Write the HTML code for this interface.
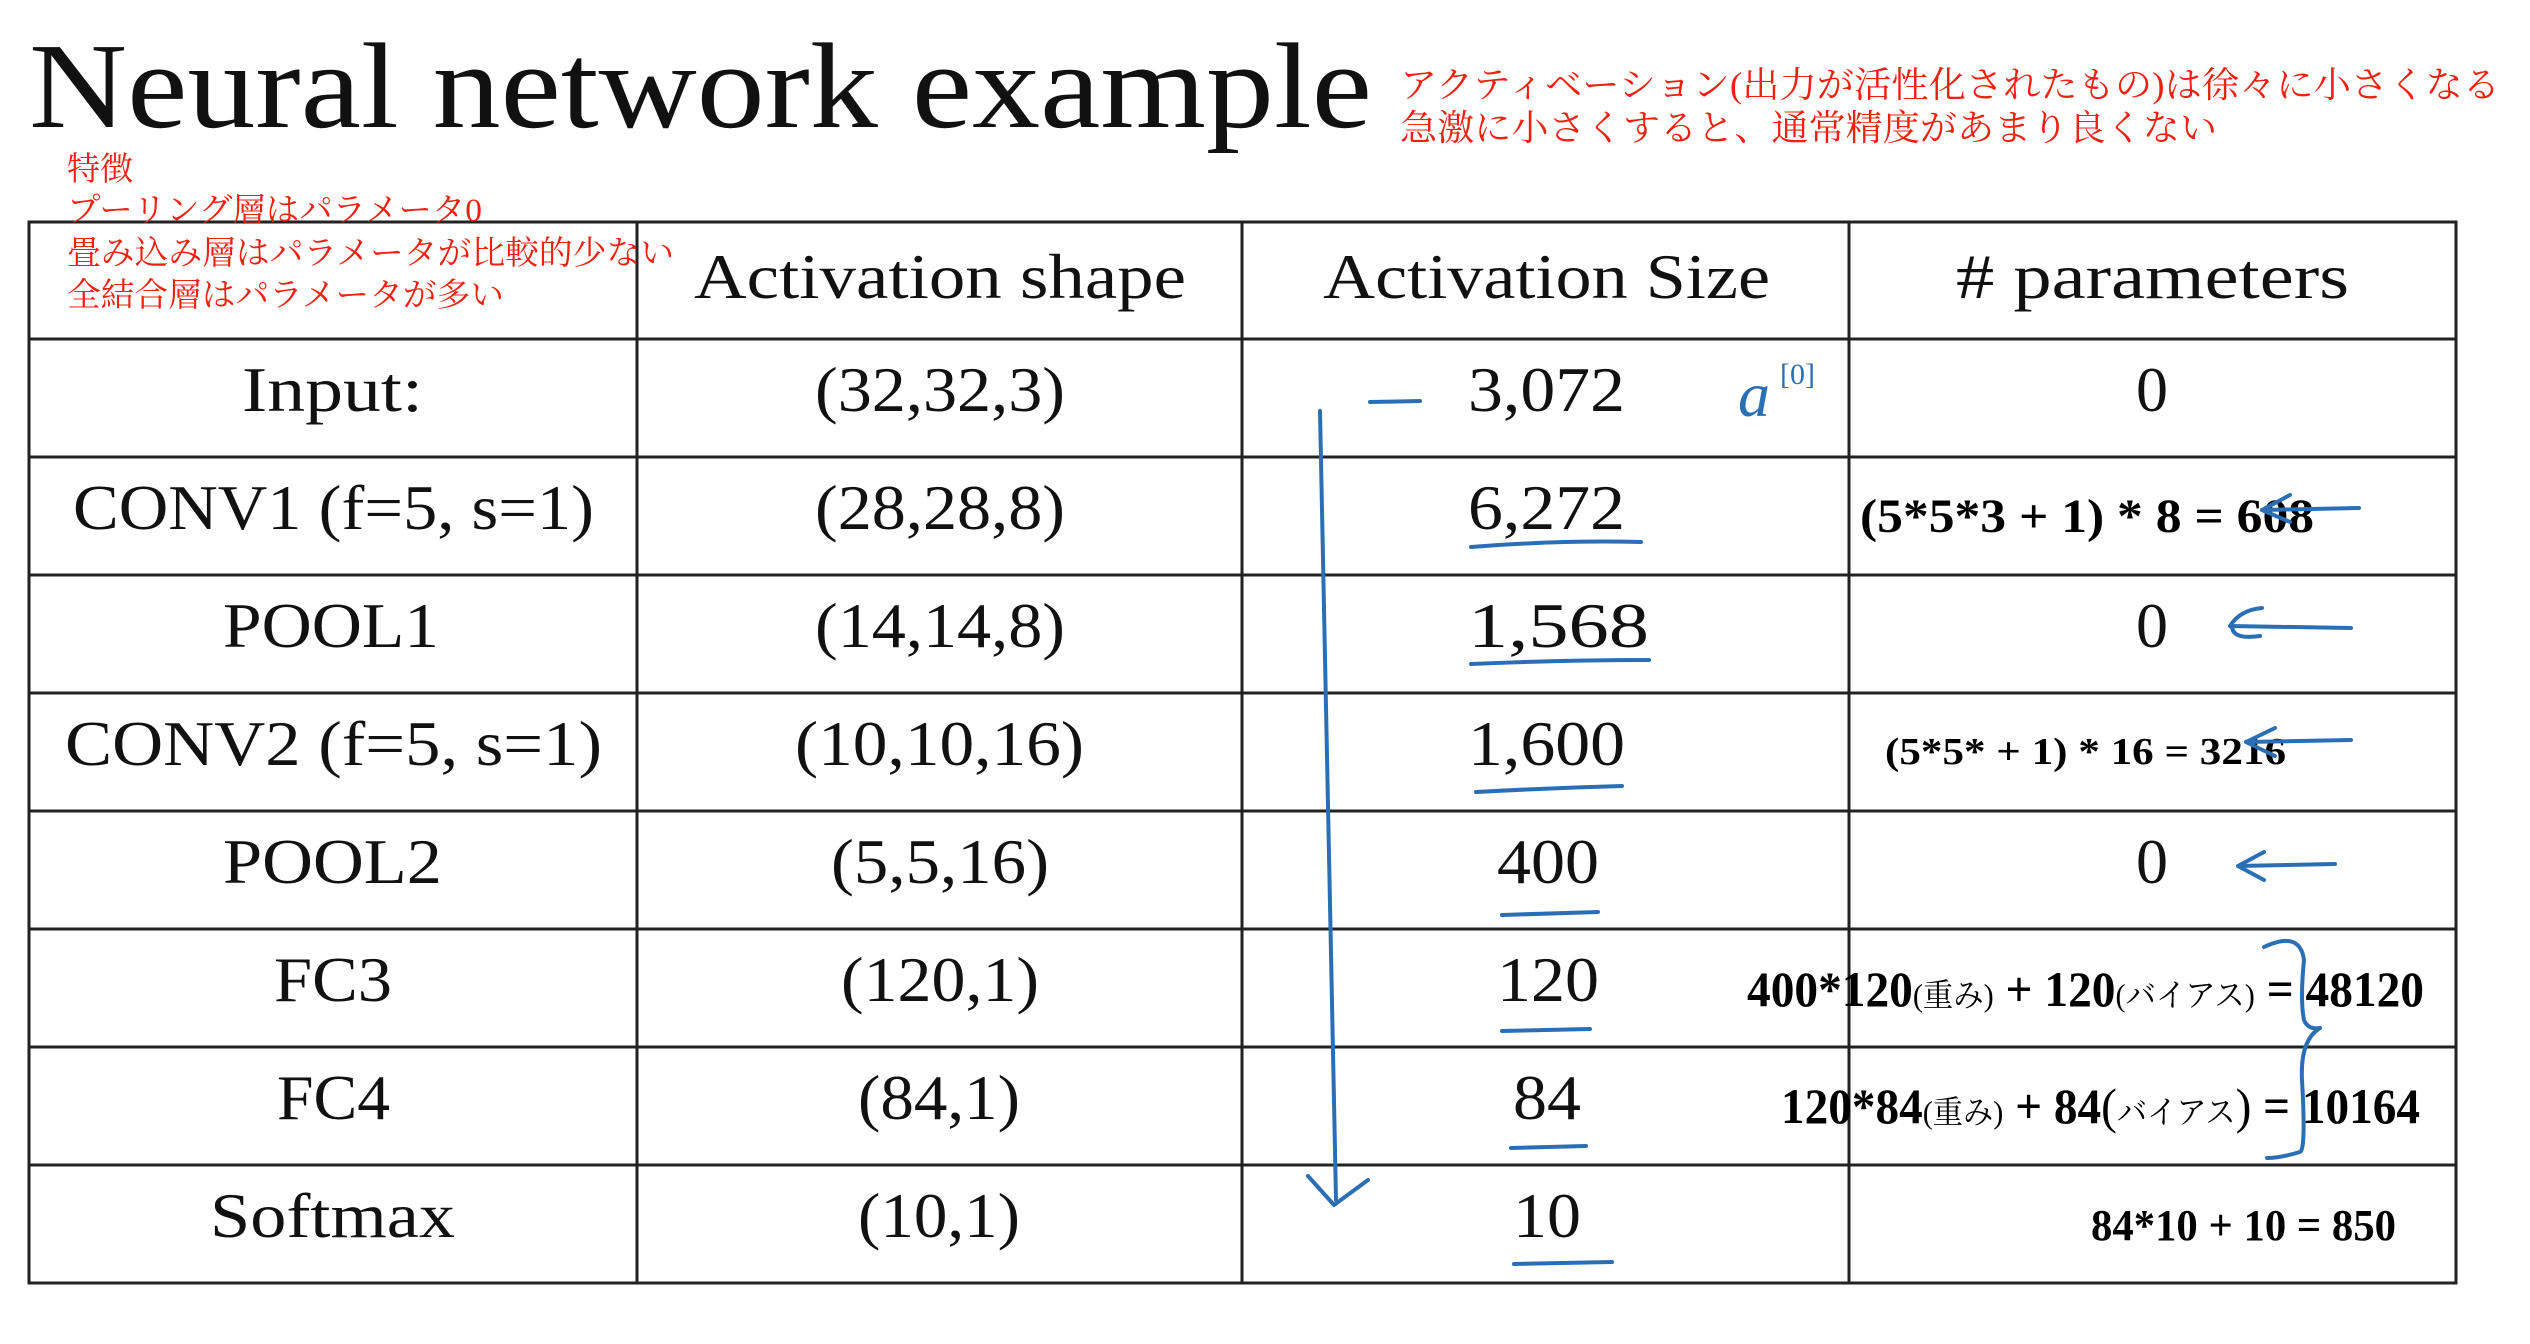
<!DOCTYPE html>
<html><head><meta charset="utf-8"><style>
html,body{margin:0;padding:0;background:#fff;}
svg{display:block}
.t{font-family:"Liberation Serif",serif;font-size:64px;fill:#111;}
.r{font-family:"Liberation Serif","Noto Serif CJK SC",serif;fill:#f02010;}
.b{font-family:"Liberation Serif","Noto Serif CJK SC",serif;font-weight:bold;fill:#000;}
.s{font-weight:normal;}
</style></head><body>
<svg width="2530" height="1344" viewBox="0 0 2530 1344" xmlns="http://www.w3.org/2000/svg">
<rect width="2530" height="1344" fill="#fff"/>
<text x="29" y="127" font-family="Liberation Serif,serif" font-size="122" fill="#111" textLength="1343" lengthAdjust="spacingAndGlyphs">Neural network example</text>
<text class="r" x="1400" y="97" font-size="36" textLength="1100" lengthAdjust="spacingAndGlyphs">アクティベーション(出力が活性化されたもの)は徐々に小さくなる</text>
<text class="r" x="1400" y="140" font-size="36" textLength="817" lengthAdjust="spacingAndGlyphs">急激に小さくすると、通常精度があまり良くない</text>
<g stroke="#222" stroke-width="3" fill="none">
<rect x="29" y="222" width="2427" height="1061"/>
<line x1="637" y1="222" x2="637" y2="1283"/><line x1="1242" y1="222" x2="1242" y2="1283"/><line x1="1849" y1="222" x2="1849" y2="1283"/>
<line x1="29" y1="339" x2="2456" y2="339"/><line x1="29" y1="457" x2="2456" y2="457"/><line x1="29" y1="575" x2="2456" y2="575"/><line x1="29" y1="693" x2="2456" y2="693"/><line x1="29" y1="811" x2="2456" y2="811"/><line x1="29" y1="929" x2="2456" y2="929"/><line x1="29" y1="1047" x2="2456" y2="1047"/><line x1="29" y1="1165" x2="2456" y2="1165"/>
</g>
<g class="r" font-size="33">
<text x="67" y="180" textLength="66" lengthAdjust="spacingAndGlyphs">特徴</text>
<text x="67" y="221" textLength="415" lengthAdjust="spacingAndGlyphs">プーリング層はパラメータ0</text>
<text x="67" y="264" textLength="607" lengthAdjust="spacingAndGlyphs">畳み込み層はパラメータが比較的少ない</text>
<text x="67" y="306" textLength="437" lengthAdjust="spacingAndGlyphs">全結合層はパラメータが多い</text>
</g>
<g class="t">
<text x="694" y="298" textLength="492" lengthAdjust="spacingAndGlyphs">Activation shape</text>
<text x="1323" y="298" textLength="447" lengthAdjust="spacingAndGlyphs">Activation Size</text>
<text x="1956" y="298" textLength="393" lengthAdjust="spacingAndGlyphs"># parameters</text>
<text x="242" y="411" textLength="181" lengthAdjust="spacingAndGlyphs">Input:</text>
<text x="73" y="529" textLength="521" lengthAdjust="spacingAndGlyphs">CONV1 (f=5, s=1)</text>
<text x="223" y="647" textLength="216" lengthAdjust="spacingAndGlyphs">POOL1</text>
<text x="65" y="765" textLength="537" lengthAdjust="spacingAndGlyphs">CONV2  (f=5, s=1)</text>
<text x="223" y="883" textLength="219" lengthAdjust="spacingAndGlyphs">POOL2</text>
<text x="274" y="1001" textLength="118" lengthAdjust="spacingAndGlyphs">FC3</text>
<text x="277" y="1119" textLength="113" lengthAdjust="spacingAndGlyphs">FC4</text>
<text x="210" y="1237" textLength="245" lengthAdjust="spacingAndGlyphs">Softmax</text>
<text x="815" y="411" textLength="250" lengthAdjust="spacingAndGlyphs">(32,32,3)</text>
<text x="815" y="529" textLength="250" lengthAdjust="spacingAndGlyphs">(28,28,8)</text>
<text x="815" y="647" textLength="250" lengthAdjust="spacingAndGlyphs">(14,14,8)</text>
<text x="795" y="765" textLength="289" lengthAdjust="spacingAndGlyphs">(10,10,16)</text>
<text x="831" y="883" textLength="218" lengthAdjust="spacingAndGlyphs">(5,5,16)</text>
<text x="841" y="1001" textLength="198" lengthAdjust="spacingAndGlyphs">(120,1)</text>
<text x="858" y="1119" textLength="162" lengthAdjust="spacingAndGlyphs">(84,1)</text>
<text x="858" y="1237" textLength="162" lengthAdjust="spacingAndGlyphs">(10,1)</text>
<text x="1468" y="411" textLength="157" lengthAdjust="spacingAndGlyphs">3,072</text>
<text x="1468" y="529" textLength="157" lengthAdjust="spacingAndGlyphs">6,272</text>
<text x="1468" y="647" textLength="181" lengthAdjust="spacingAndGlyphs">1,568</text>
<text x="1468" y="765" textLength="157" lengthAdjust="spacingAndGlyphs">1,600</text>
<text x="1497" y="883" textLength="102" lengthAdjust="spacingAndGlyphs">400</text>
<text x="1497" y="1001" textLength="102" lengthAdjust="spacingAndGlyphs">120</text>
<text x="1513" y="1119" textLength="68" lengthAdjust="spacingAndGlyphs">84</text>
<text x="1513" y="1237" textLength="68" lengthAdjust="spacingAndGlyphs">10</text>
<text x="2136" y="411">0</text>
<text x="2136" y="647">0</text>
<text x="2136" y="883">0</text>
</g>
<g class="b">
<text x="1860" y="532" font-size="48" textLength="454" lengthAdjust="spacingAndGlyphs">(5*5*3 + 1) * 8 = 608</text>
<text x="1885" y="764" font-size="38" textLength="401" lengthAdjust="spacingAndGlyphs">(5*5* + 1) * 16 = 3216</text>
<text x="1747" y="1006" font-size="50" textLength="677" lengthAdjust="spacingAndGlyphs">400*120<tspan class="s" font-size="32">(重み)</tspan> + 120<tspan class="s" font-size="32">(バイアス)</tspan> = 48120</text>
<text x="1781" y="1123" font-size="50" textLength="639" lengthAdjust="spacingAndGlyphs">120*84<tspan class="s" font-size="32">(重み)</tspan> + 84<tspan class="s">(</tspan><tspan class="s" font-size="32">バイアス</tspan><tspan class="s">)</tspan> = 10164</text>
<text x="2091" y="1240" font-size="44" textLength="305" lengthAdjust="spacingAndGlyphs">84*10 + 10 = 850</text>
</g>
<g stroke="#2a6fb5" stroke-width="4" fill="none" stroke-linecap="round" stroke-linejoin="round">
<path d="M1320 411 Q1328 800 1336 1200"/>
<path d="M1308 1176 L1334 1205 L1368 1180"/>
<path d="M1370 402 L1420 401"/>
<path d="M1471 547 Q1560 540 1641 542"/>
<path d="M1471 664 Q1560 660 1649 660"/>
<path d="M1476 792 Q1550 788 1622 786"/>
<path d="M1502 915 L1598 912"/>
<path d="M1502 1031 L1590 1029"/>
<path d="M1511 1148 L1586 1146"/>
<path d="M1514 1264 L1612 1262"/>
<path d="M2262 510 L2359 508 M2262 510 L2290 495 M2262 510 L2290 522"/>
<path d="M2232 626 Q2232 640 2260 636 M2230 626 L2351 628 M2230 626 Q2240 610 2262 608"/>
<path d="M2246 742 L2351 740 M2246 742 L2275 728 M2246 742 L2275 756"/>
<path d="M2238 866 L2335 864 M2238 866 L2264 852 M2238 866 L2264 880"/>
<path d="M2264 947 Q2300 930 2304 960 Q2300 1000 2304 1020 Q2308 1030 2320 1028 Q2300 1040 2302 1080 Q2306 1150 2300 1152 Q2280 1158 2267 1158"/>
</g>
<text x="1738" y="416" font-family="Liberation Serif,serif" font-style="italic" font-size="64" fill="#2a6fb5">a</text>
<text x="1780" y="384" font-family="Liberation Serif,serif" font-size="30" fill="#2a6fb5">[0]</text>
</svg>
</body></html>
